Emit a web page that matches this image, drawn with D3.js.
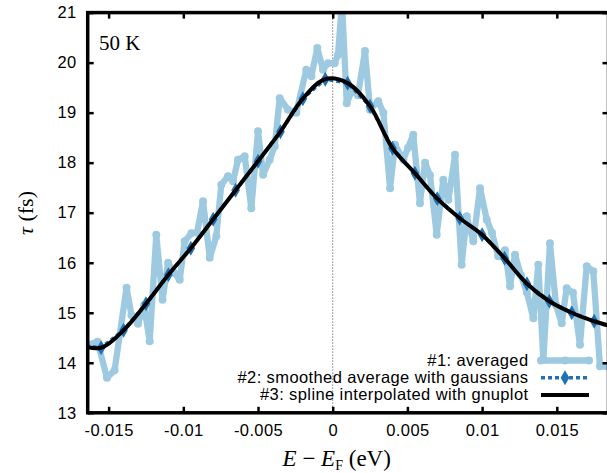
<!DOCTYPE html>
<html>
<head>
<meta charset="utf-8">
<script src="https://cdn.jsdelivr.net/npm/d3@7"></script>
<style>
body{margin:0;background:#fff}
svg{display:block}
.tick text{font-family:"Liberation Sans",Arial,sans-serif;font-size:16.5px;letter-spacing:0.4px;fill:#000}
</style>
</head>
<body>
<div id="chart"></div>
<script>
// #1 averaged (noisy) data, E-E_F in eV and tau in fs
var avgE = [-0.01638,-0.01574,-0.01511,-0.01460,-0.01380,-0.01347,-0.01303,-0.01263,-0.01225,-0.01181,
	-0.01139,-0.01102,-0.01062,-0.01024,-0.00991,-0.00946,-0.00908,-0.00868,-0.00823,-0.00779,
	-0.00746,-0.00701,-0.00667,-0.00634,-0.00589,-0.00545,-0.00500,-0.00466,-0.00422,-0.00388,
	-0.00355,-0.00299,-0.00244,-0.00177,-0.00143,-0.00103,-0.00065,-0.00031,0.00013,0.00035,
	0.00062,0.00094,0.00127,0.00169,0.00216,0.00250,0.00305,0.00339,0.00384,0.00417,
	0.00473,0.00504,0.00539,0.00584,0.00618,0.00651,0.00696,0.00740,0.00774,0.00819,
	0.00863,0.00897,0.00941,0.00986,0.01031,0.01066,0.01108,0.01153,0.01187,0.01220,
	0.01260,0.01300,0.01343,0.01376,0.01410,0.01454,0.01495,0.01533,0.01566,0.01608,
	0.01655,0.01700,0.01744,0.01789,0.01836,0.01880]
var avgTau = [14.36,14.42,13.70,13.85,15.50,14.95,14.78,15.15,14.43,16.56,
	15.26,16.00,15.80,15.66,16.43,16.59,16.60,17.23,16.10,16.53,
	17.56,17.73,17.63,18.06,18.13,17.09,18.63,17.76,18.06,18.33,
	19.29,19.06,19.00,19.86,19.73,20.29,19.86,19.99,19.99,20.15,
	21.20,19.19,19.43,19.35,20.23,19.06,19.23,19.00,17.49,18.36,
	18.06,18.30,18.56,17.19,18.00,17.75,16.56,17.66,17.26,18.16,
	15.96,16.93,16.43,17.49,16.86,16.60,16.13,16.25,15.53,16.16,
	15.75,15.40,14.89,15.96,14.06,16.39,15.15,14.79,15.49,15.40,
	14.36,15.93,15.83,13.93,13.93,13.95]

// #2 smoothed average with gaussians
var smoothE = [-0.0170,-0.0155,-0.0140,-0.0125,-0.0110,-0.0095,-0.0080,-0.0065,-0.0050,-0.0035,
	-0.0020,-0.0005,0.0010,0.0025,0.0040,0.0055,0.0070,0.0085,0.0100,0.0115,
	0.0130,0.0145,0.0160,0.0175,0.0190]
var smoothTau = [14.36,14.30,14.65,15.18,15.76,16.29,16.87,17.45,18.03,18.62,
	19.28,19.67,19.59,19.13,18.29,17.79,17.28,16.89,16.56,16.09,
	15.58,15.23,15.00,14.83,14.70]

var xTicks = [-0.015,-0.01,-0.005,0,0.005,0.01,0.015]
var yTicks = [13,14,15,16,17,18,19,20,21]
var legendLabels = ["#1: averaged","#2: smoothed average with gaussians","#3: spline interpolated with gnuplot"]

var width = 607, height = 473
var pLeft = 87.7, pRight = 608.5, pTop = 12.6, pBottom = 412.8
var lightBlue = "#9ecae1", darkBlue = "#2171b5"

var svg = d3.select("#chart").append("svg").attr("width",width).attr("height",height)

var xScale = d3.scaleLinear().domain([-0.0164,0.01846]).range([pLeft,pRight])
var yScale = d3.scaleLinear().domain([13,21]).range([pBottom,pTop])

svg.append("clipPath").attr("id","plotclip").append("rect")
	.attr("x",pLeft).attr("y",pTop).attr("width",pRight-pLeft).attr("height",pBottom-pTop)

var plot = svg.append("g").attr("clip-path","url(#plotclip)")

// zero line
plot.append("line")
	.attr("x1",xScale(0)).attr("x2",xScale(0)).attr("y1",pTop).attr("y2",pBottom)
	.attr("stroke","#444").attr("stroke-width",1).attr("stroke-dasharray","1,2")

var avgData = avgE.map(function(d,i){return [d,avgTau[i]]})
var smoothData = smoothE.map(function(d,i){return [d,smoothTau[i]]})

var line = d3.line().x(function(d){return xScale(d[0])}).y(function(d){return yScale(d[1])})

plot.append("path").datum(avgData)
	.attr("d",line).attr("fill","none").attr("stroke",lightBlue)
	.attr("stroke-width",6.3).attr("stroke-linejoin","round")
plot.selectAll(".avgpt").data(avgData).enter().append("circle")
	.attr("class","avgpt")
	.attr("cx",function(d){return xScale(d[0])}).attr("cy",function(d){return yScale(d[1])})
	.attr("r",4).attr("fill",lightBlue)

plot.append("path").datum(smoothData)
	.attr("d",line).attr("fill","none").attr("stroke",darkBlue)
	.attr("stroke-width",3.5).attr("stroke-dasharray","4,3")
var diamond = d3.symbol().type(d3.symbolDiamond).size(65)
plot.selectAll(".smpt").data(smoothData).enter().append("path")
	.attr("class","smpt").attr("d",diamond)
	.attr("transform",function(d){return "translate("+xScale(d[0])+","+yScale(d[1])+")"})
	.attr("fill",darkBlue)

var spline = d3.line().curve(d3.curveCatmullRom.alpha(0.5))
	.x(function(d){return xScale(d[0])}).y(function(d){return yScale(d[1])})
plot.append("path").datum(smoothData)
	.attr("d",spline).attr("fill","none").attr("stroke","#000").attr("stroke-width",4)

// axes
var xAxis = d3.axisBottom(xScale).tickValues(xTicks).tickSizeInner(-6).tickSizeOuter(0).tickPadding(11)
	.tickFormat(function(d){return String(d)})
var xAxisTop = d3.axisTop(xScale).tickValues(xTicks).tickSizeInner(-6).tickSizeOuter(0).tickFormat("")
var yAxis = d3.axisLeft(yScale).tickValues(yTicks).tickSizeInner(-6).tickSizeOuter(0).tickPadding(11)
	.tickFormat(function(d){return String(d)})
var yAxisRight = d3.axisRight(yScale).tickValues(yTicks).tickSizeInner(-6).tickSizeOuter(0).tickFormat("")

var axes = [
	svg.append("g").attr("transform","translate(0,"+pBottom+")").call(xAxis),
	svg.append("g").attr("transform","translate(0,"+pTop+")").call(xAxisTop),
	svg.append("g").attr("transform","translate("+pLeft+",0)").call(yAxis),
	svg.append("g").attr("transform","translate("+pRight+",0)").call(yAxisRight)
]
axes.forEach(function(g){
	g.select(".domain").remove()
	g.selectAll(".tick line").attr("stroke","#000").attr("stroke-width",2.5)
})

svg.append("rect").attr("x",pLeft).attr("y",pTop).attr("width",pRight-pLeft).attr("height",pBottom-pTop)
	.attr("fill","none").attr("stroke","#000").attr("stroke-width",3.5)

// labels
var serif = "'Liberation Serif','Times New Roman',serif"
svg.append("text").attr("x",99).attr("y",50).attr("font-family",serif).attr("font-size",21).text("50 K")

var xt = svg.append("text").attr("x",xScale(0)+4).attr("y",466).attr("text-anchor","middle")
	.attr("font-family",serif).attr("font-size",23)
xt.append("tspan").attr("font-style","italic").text("E")
xt.append("tspan").text(" \u2212 ")
xt.append("tspan").attr("font-style","italic").text("E")
xt.append("tspan").attr("font-size",14).attr("dy",4).text("F")
xt.append("tspan").attr("dy",-4).text(" (eV)")

var yt = svg.append("text").attr("transform","translate(33,213) rotate(-90)").attr("text-anchor","middle")
	.attr("font-family",serif).attr("font-size",22)
yt.append("tspan").attr("font-style","italic").text("\u03c4")
yt.append("tspan").text(" (fs)")

// legend
var legend = svg.append("g")
legendLabels.forEach(function(lab,i){
	var base = 366 + i*17.2
	legend.append("text").attr("x",528.5).attr("y",base).attr("text-anchor","end")
		.attr("font-family","'Liberation Sans',Arial,sans-serif").attr("font-size",16.5)
		.attr("letter-spacing",0.4).text(lab)
	var ly = base - 5.5
	if(i==0){
		legend.append("line").attr("x1",541).attr("x2",589).attr("y1",ly).attr("y2",ly)
			.attr("stroke",lightBlue).attr("stroke-width",6.3)
		;[541,565,589].forEach(function(px){
			legend.append("circle").attr("cx",px).attr("cy",ly).attr("r",4).attr("fill",lightBlue)
		})
	}else if(i==1){
		legend.append("line").attr("x1",541).attr("x2",589).attr("y1",ly).attr("y2",ly)
			.attr("stroke",darkBlue).attr("stroke-width",3.5).attr("stroke-dasharray","4,3")
		legend.append("path").attr("d",diamond).attr("transform","translate(565,"+ly+")").attr("fill",darkBlue)
	}else{
		legend.append("line").attr("x1",541).attr("x2",589).attr("y1",ly).attr("y2",ly)
			.attr("stroke","#000").attr("stroke-width",4)
	}
})
</script>
</body>
</html>
